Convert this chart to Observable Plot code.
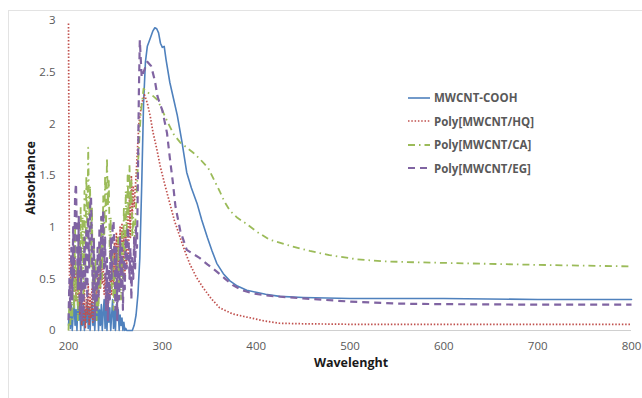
<!DOCTYPE html>
<html>
<head>
<meta charset="utf-8">
<script src="https://cdn.jsdelivr.net/npm/d3@7"></script>
<script src="https://cdn.jsdelivr.net/npm/@observablehq/plot@0.6"></script>
<style>
  html, body { margin: 0; padding: 0; background: #fff; }
  #wrap { position: relative; width: 642px; height: 398px; overflow: hidden; font-family: "Open Sans", "Liberation Sans", sans-serif; }
  #frame { position: absolute; left: 8px; top: 10px; width: 700px; height: 500px; border-left: 1px solid #e3e3e3; border-top: 1px solid #e3e3e3; }
  #legend { position: absolute; left: 408px; top: 86px; font-size: 11.5px; font-weight: 700; color: #595959; }
  #legend .row { display: flex; align-items: center; height: 23.5px; }
  #legend svg { margin-right: 2px; }
  .ylab { position: absolute; left: 30px; top: 178px; transform: translate(-50%, -50%) rotate(-90deg); font-weight: 700; font-size: 12.5px; color: #1a1a1a; white-space: nowrap; }
  .xlab { position: absolute; left: 351px; top: 362px; transform: translate(-50%, -50%); font-weight: 700; font-size: 12.5px; color: #1a1a1a; }
</style>
</head>
<body>
<div id="wrap">
  <div id="frame"></div>
  <div id="chart"></div>
  <div class="ylab">Absorbance</div>
  <div class="xlab">Wavelenght</div>
  <div id="legend"></div>
</div>
<script>
const seriesNames = ["MWCNT-COOH", "Poly[MWCNT/HQ]", "Poly[MWCNT/CA]", "Poly[MWCNT/EG]"];
const seriesColors = ["#4F81BD", "#C0504D", "#9BBB59", "#8064A2"];
const xTicks = [200, 300, 400, 500, 600, 700, 800];
const yTicks = [0, 0.5, 1, 1.5, 2, 2.5, 3];

// MWCNT-COOH
const cooh_x = [200,201,202,203,204,205,206,207,208,209,210,211,212,213,214,215,216,217,218,219,220,221,222,223,224,225,226,227,228,229,230,231,232,233,234,235,236,237,238,239,240,241,242,243,244,245,246,247,248,249,250,251,252,253,254,255,256,257,258,259,260,261,262,265,268,270,272,274,276,278,280,282,284,286,288,290,292,294,296,298,300,302,304,308,312,316,321,326,331,337,342,348,353,358,365,372,380,390,400,410,425,450,500,600,700,800];
const cooh_y = [0.05,0.2,0.02,0.25,0.0,0.15,0.3,0.05,0.2,0.0,0.28,0.1,0.3,0.0,0.18,0.05,0.25,0.0,0.2,0.08,0.3,0.02,0.22,0.0,0.15,0.28,0.05,0.2,0.0,0.25,0.1,0.3,0.0,0.2,0.05,0.25,0.0,0.18,0.3,0.02,0.2,0.0,0.28,0.08,0.22,0.0,0.15,0.3,0.02,0.2,0.0,0.25,0.1,0.2,0.0,0.15,0.05,0.12,0.0,0.08,0.0,0.02,0.0,0.0,0.0,0.05,0.15,0.35,0.7,1.4,2.2,2.6,2.75,2.8,2.85,2.9,2.93,2.92,2.88,2.78,2.74,2.75,2.62,2.40,2.24,2.08,1.82,1.53,1.38,1.23,1.07,0.90,0.77,0.65,0.55,0.48,0.43,0.39,0.37,0.35,0.33,0.32,0.31,0.31,0.30,0.30];

// Poly[MWCNT/HQ]
const hq_x = [200,201,202,203,204,205,206,207,208,209,210,211,212,213,214,215,216,217,218,219,220,221,222,223,224,225,226,227,228,229,230,231,232,233,234,235,236,237,238,239,240,241,242,243,244,245,246,247,248,249,250,251,252,253,254,255,256,257,258,259,260,261,262,263,264,265,266,267,268,269,270,272,275,278,281,284,287,290,294,298,303,308,313,319,324,329,336,343,352,361,375,390,410,425,450,500,800];
const hq_y = [2.97,0.55,0.35,0.7,0.3,0.62,0.38,0.72,0.28,0.6,0.32,0.5,0.15,0.42,0.05,0.35,0.1,0.4,0.02,0.3,0.15,0.45,0.05,0.35,0.12,0.4,0.08,0.3,0.2,0.45,0.25,0.55,0.3,0.62,0.4,0.68,0.45,0.6,0.35,0.55,0.2,0.5,0.15,0.45,0.3,0.6,0.35,0.75,0.45,0.85,0.5,0.95,0.55,0.9,0.45,1.0,0.6,1.04,0.55,0.95,0.5,0.9,0.6,1.1,0.7,1.3,0.9,1.5,1.1,1.4,1.2,1.5,2.0,2.2,2.28,2.2,2.08,1.92,1.76,1.58,1.40,1.23,1.06,0.90,0.77,0.65,0.52,0.42,0.31,0.22,0.16,0.13,0.09,0.07,0.065,0.06,0.06];

// Poly[MWCNT/CA]
const ca_x = [200,201,202,203,204,205,206,207,208,209,210,211,212,213,214,215,216,217,218,219,220,221,222,223,224,225,226,227,228,229,230,231,232,233,234,235,236,237,238,239,240,241,242,243,244,245,246,247,248,249,250,251,252,253,254,255,256,257,258,259,260,261,262,263,264,265,266,267,268,269,270,272,274,277,280,285,290,295,300,306,312,319,326,333,341,349,355,361,366,372,380,390,400,414,436,457,478,507,534,570,623,700,800];
const ca_y = [0.0,0.3,0.05,0.5,0.1,0.8,0.2,1.0,0.3,0.6,0.1,0.9,0.4,1.2,0.5,1.1,0.3,1.35,0.6,1.5,0.9,1.77,1.1,1.4,0.6,1.2,0.3,0.9,0.2,0.7,0.1,0.5,0.2,0.8,0.4,1.1,0.5,1.3,0.8,1.5,1.0,1.67,1.2,1.45,0.7,1.1,0.4,0.8,0.2,0.6,0.3,0.75,0.35,0.9,0.45,0.7,0.3,0.95,0.5,1.2,0.7,1.35,0.9,1.5,1.1,1.6,1.2,1.45,0.9,1.1,0.8,1.2,1.6,2.1,2.34,2.30,2.27,2.23,2.13,2.01,1.9,1.82,1.77,1.72,1.65,1.57,1.46,1.35,1.25,1.16,1.09,1.03,0.96,0.88,0.82,0.77,0.73,0.69,0.67,0.66,0.65,0.635,0.62];

// Poly[MWCNT/EG]
const eg_x = [200,201,202,203,204,205,206,207,208,209,210,211,212,213,214,215,216,217,218,219,220,221,222,223,224,225,226,227,228,229,230,231,232,233,234,235,236,237,238,239,240,241,242,243,244,245,246,247,248,249,250,251,252,253,254,255,256,257,258,259,260,261,262,263,264,265,266,267,268,269,270,271,272,273,274,275,276,278,280,284,288,292,295,300,305,308,311,314,319,326,333,340,348,358,367,375,385,396,410,422,450,500,550,600,700,800];
const eg_y = [0.1,0.5,0.2,0.8,0.3,1.0,0.5,1.3,1.42,0.9,0.4,1.1,0.2,0.8,0.1,0.6,0.2,0.9,0.4,1.0,0.3,1.1,0.6,1.2,1.29,0.8,0.3,0.9,0.1,0.6,0.2,0.8,0.3,1.0,0.5,1.1,0.7,1.16,0.6,0.9,0.2,0.7,0.1,0.6,0.3,0.9,0.5,1.0,1.06,0.7,0.2,0.8,0.1,0.6,0.3,0.9,0.4,0.8,0.2,0.7,0.4,0.9,0.6,1.0,0.9,0.5,0.8,0.3,0.7,0.5,0.9,0.6,1.0,0.8,1.5,2.3,2.81,2.45,2.5,2.6,2.56,2.42,2.26,2.13,1.91,1.67,1.45,1.2,0.97,0.78,0.74,0.70,0.64,0.57,0.50,0.44,0.39,0.36,0.34,0.33,0.31,0.28,0.26,0.255,0.25,0.25];

const xs = [cooh_x, hq_x, ca_x, eg_x];
const ys = [cooh_y, hq_y, ca_y, eg_y];
const dashes = ["none", "1.5,1.8", "7,4,1.5,4", "7,5"];
const widths = [1.6, 1.7, 1.8, 2.2];

const rows = seriesNames.map((name, i) => xs[i].map((x, j) => ({series: name, x, y: ys[i][j]})));

const plot = Plot.plot({
  width: 642,
  height: 398,
  marginLeft: 68,
  marginRight: 11,
  marginTop: 20,
  marginBottom: 68,
  style: {fontFamily: '"Open Sans", "Liberation Sans", sans-serif', fontSize: "11.5px", color: "#595959", background: "transparent", overflow: "visible"},
  x: {domain: [200, 800], ticks: xTicks, tickSize: 0, tickPadding: 11, label: null, tickFormat: d => String(d)},
  y: {domain: [0, 3], ticks: yTicks, tickSize: 0, tickPadding: 13, label: null, tickFormat: d => String(d)},
  marks: [
    Plot.ruleY([0], {stroke: "#d0d0d0", strokeWidth: 1.2}),
    ...rows.map((data, i) => Plot.line(data, {
      x: "x", y: "y",
      stroke: seriesColors[i],
      strokeWidth: widths[i],
      strokeDasharray: dashes[i],
      strokeLinecap: i === 0 ? "round" : "butt",
      curve: "linear"
    }))
  ]
});
document.getElementById("chart").appendChild(plot);

const leg = document.getElementById("legend");
seriesNames.forEach((name, i) => {
  const row = document.createElement("div");
  row.className = "row";
  const ns = "http://www.w3.org/2000/svg";
  const s = document.createElementNS(ns, "svg");
  s.setAttribute("width", "24"); s.setAttribute("height", "6");
  const l = document.createElementNS(ns, "line");
  l.setAttribute("x1", "0"); l.setAttribute("x2", "22");
  l.setAttribute("y1", "3"); l.setAttribute("y2", "3");
  l.setAttribute("stroke", seriesColors[i]);
  l.setAttribute("stroke-width", widths[i]);
  if (dashes[i] !== "none") l.setAttribute("stroke-dasharray", dashes[i]);
  s.appendChild(l);
  row.appendChild(s);
  const t = document.createElement("span");
  t.textContent = name;
  row.appendChild(t);
  leg.appendChild(row);
});
</script>
</body>
</html>
